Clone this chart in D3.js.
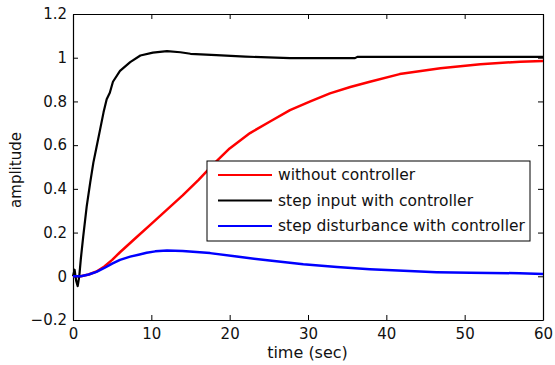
<!DOCTYPE html>
<html>
<head>
<meta charset="utf-8">
<script src="https://cdn.jsdelivr.net/npm/d3@7"></script>
<style>
  body { margin: 0; background: #fff; }
  svg { font-family: "DejaVu Sans", sans-serif; }
</style>
</head>
<body>
<svg id="chart" width="555" height="365"></svg>
<script>
// 数据
var redT   = [0, 1, 2, 3, 4, 5, 6, 8, 10, 12, 14, 16, 18, 20, 22.6, 25.1, 27.7, 30.3, 32.8, 35.4, 37.9, 41.7, 46.9, 52, 57.1, 60];
var redV   = [0, 0, 0.008, 0.022, 0.045, 0.075, 0.11, 0.175, 0.24, 0.305, 0.37, 0.44, 0.515, 0.585, 0.655, 0.707, 0.76, 0.8, 0.837, 0.866, 0.89, 0.925, 0.952, 0.97, 0.982, 0.985];
var blackT = [0, 0.2, 0.4, 0.6, 0.8, 1.0, 1.3, 1.75, 2.2, 2.6, 3.0, 3.45, 3.9, 4.3, 4.7, 5.1, 6, 7.3, 8.6, 10.2, 12, 13.7, 15, 18.3, 22, 27.7, 36, 36.3, 45, 60];
var blackV = [0, 0.03, -0.02, -0.045, 0.0, 0.08, 0.18, 0.32, 0.43, 0.52, 0.59, 0.67, 0.75, 0.81, 0.84, 0.89, 0.94, 0.98, 1.01, 1.023, 1.03, 1.025, 1.018, 1.012, 1.005, 0.998, 0.998, 1.004, 1.004, 1.004];
var blueT  = [0, 1, 2, 3, 4, 5, 6, 7.3, 8.5, 9.4, 10.5, 12, 14, 17.5, 20.9, 25.1, 29.4, 33.7, 37.9, 42.2, 46.4, 50.7, 57, 60];
var blueV  = [0, 0, 0.008, 0.02, 0.038, 0.058, 0.075, 0.09, 0.1, 0.108, 0.114, 0.118, 0.116, 0.106, 0.09, 0.072, 0.055, 0.042, 0.032, 0.025, 0.019, 0.016, 0.014, 0.01];
var xTicks = [0, 10, 20, 30, 40, 50, 60];
var yTicks = [-0.2, 0, 0.2, 0.4, 0.6, 0.8, 1, 1.2];
var legendNames = ["without controller", "step input with controller", "step disturbance with controller"];
var colors = ["#ff0000", "#000000", "#0000ff"];

var svg = d3.select("#chart");
var mLeft = 73, mRight = 543, mTop = 14, mBottom = 320;

var x = d3.scaleLinear().domain([0, 60]).range([mLeft, mRight]);
var y = d3.scaleLinear().domain([-0.2, 1.2]).range([mBottom, mTop]);

// 坐标轴
var fmt = function(d) { return d3.format("")(+d.toFixed(1)); };
svg.append("g").attr("transform", "translate(0," + mBottom + ")")
  .call(d3.axisBottom(x).tickValues(xTicks).tickSizeInner(-5).tickSizeOuter(0).tickPadding(8).tickFormat(fmt));
svg.append("g").attr("transform", "translate(" + mLeft + ",0)")
  .call(d3.axisLeft(y).tickValues(yTicks).tickSizeInner(-5).tickSizeOuter(0).tickPadding(6).tickFormat(fmt));
svg.append("g").attr("transform", "translate(0," + mTop + ")")
  .call(d3.axisTop(x).tickValues(xTicks).tickSizeInner(-5).tickSizeOuter(0).tickFormat(""));
svg.append("g").attr("transform", "translate(" + mRight + ",0)")
  .call(d3.axisRight(y).tickValues(yTicks).tickSizeInner(-5).tickSizeOuter(0).tickFormat(""));

svg.selectAll(".domain").attr("stroke", "#000").attr("stroke-width", 1.2);
svg.selectAll(".tick line").attr("stroke", "#000");
svg.selectAll(".tick text").style("font-family", "DejaVu Sans").style("font-size", "15px").attr("fill", "#111");

// 曲线
var series = [
  redT.map(function(t, i) { return [t, redV[i]]; }),
  blackT.map(function(t, i) { return [t, blackV[i]]; }),
  blueT.map(function(t, i) { return [t, blueV[i]]; })
];
var line = d3.line().x(function(d) { return x(d[0]); }).y(function(d) { return y(d[1]); });
svg.selectAll("path.curve")
  .data(series)
  .enter()
  .append("path")
  .attr("class", "curve")
  .attr("d", line)
  .attr("fill", "none")
  .attr("stroke", function(d, i) { return colors[i]; })
  .attr("stroke-width", function(d, i) { return i === 1 ? 2.2 : 2.5; })
  .attr("stroke-linejoin", "round");

// 轴标题
svg.append("text").attr("x", 307.5).attr("y", 358)
  .attr("text-anchor", "middle").style("font-size", "16px").attr("fill", "#111").text("time (sec)");
svg.append("text").attr("transform", "translate(21,170) rotate(-90)")
  .attr("text-anchor", "middle").style("font-size", "15px").attr("fill", "#111").text("amplitude");

// 图例
var lg = svg.append("g");
lg.append("rect").attr("x", 207).attr("y", 161).attr("width", 323).attr("height", 80)
  .attr("fill", "#fff").attr("stroke", "#000").attr("stroke-width", 1);
var rows = lg.selectAll("g.row").data(legendNames).enter().append("g")
  .attr("transform", function(d, i) { return "translate(0," + (175 + i * 25.5) + ")"; });
rows.append("line").attr("x1", 218).attr("x2", 272).attr("y1", 0).attr("y2", 0)
  .attr("stroke", function(d, i) { return colors[i]; }).attr("stroke-width", 2.2);
rows.append("text").attr("x", 278).attr("y", 0).attr("dy", "0.35em")
  .style("font-size", "15.5px").attr("fill", "#111").text(function(d) { return d; });
</script>
</body>
</html>
